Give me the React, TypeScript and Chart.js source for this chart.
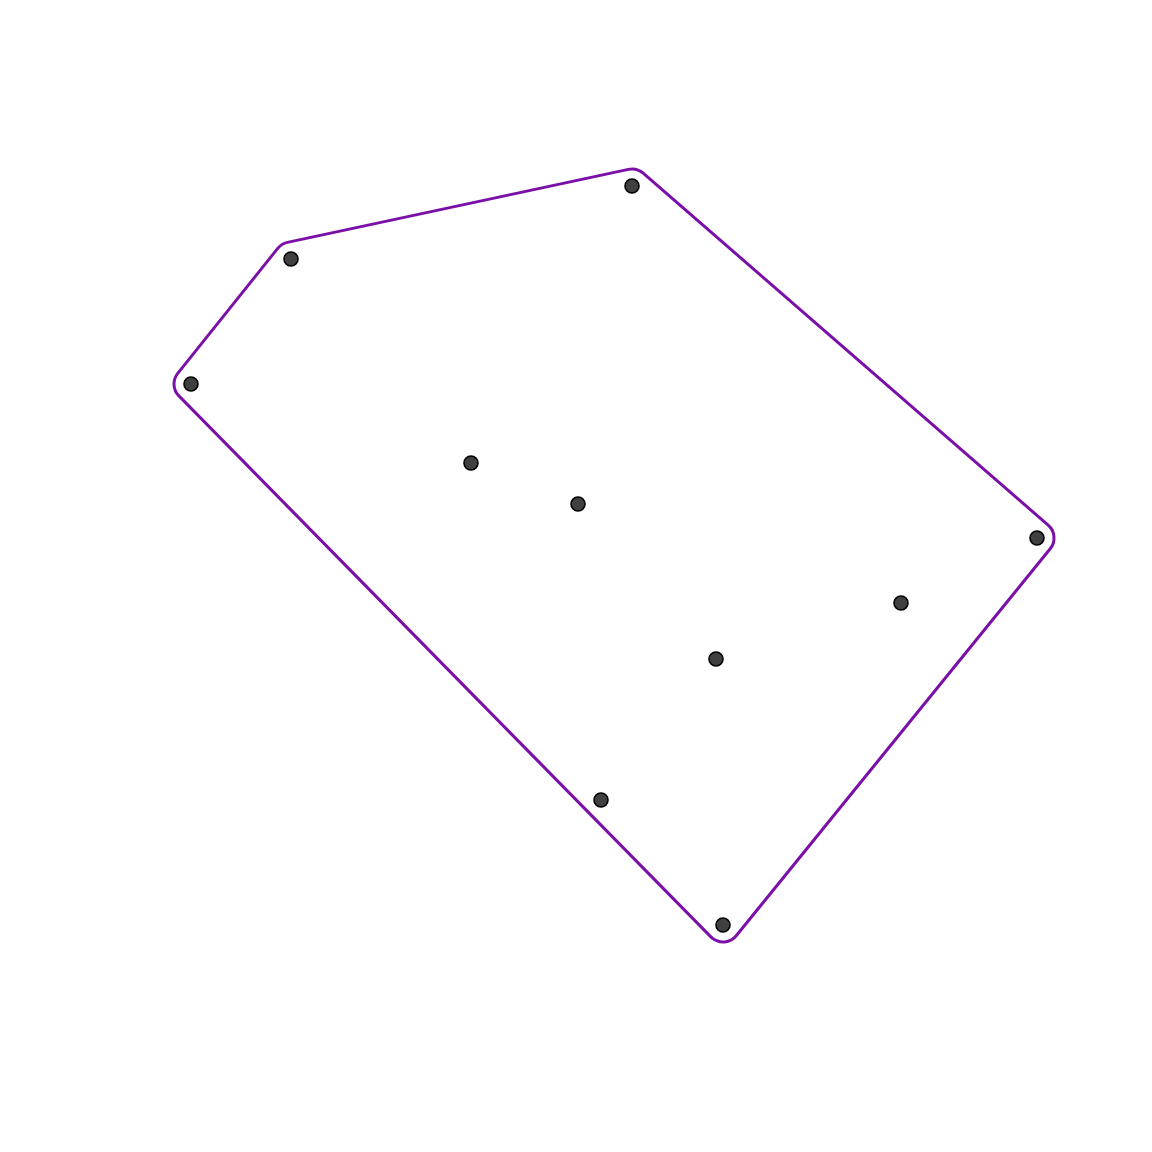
import React, { useEffect, useRef } from "react";
import { Chart, registerables } from "chart.js";

Chart.register(...registerables);

const xValues = [0.56, -2.85, -3.85, -1.05, 0.02, 4.61, 3.25, 1.4, 0.25, 1.47];
const yValues = [3.9, 3.17, 1.92, 1.13, 0.72, 0.38, -0.27, -0.83, -2.24, -3.49];

const HULL_COLOR = "#7A10A8";
const POINT_FILL = "#404040";
const HULL_EXPAND = 17;
const HULL_RADIUS = 17;

type P = { x: number; y: number };

function convexHull(pts: P[]): P[] {
  const p = [...pts].sort((a, b) => (a.x === b.x ? a.y - b.y : a.x - b.x));
  const cross = (o: P, a: P, b: P) => (a.x - o.x) * (b.y - o.y) - (a.y - o.y) * (b.x - o.x);
  const lower: P[] = [];
  for (const q of p) {
    while (lower.length >= 2 && cross(lower[lower.length - 2], lower[lower.length - 1], q) <= 0) lower.pop();
    lower.push(q);
  }
  const upper: P[] = [];
  for (let i = p.length - 1; i >= 0; i--) {
    const q = p[i];
    while (upper.length >= 2 && cross(upper[upper.length - 2], upper[upper.length - 1], q) <= 0) upper.pop();
    upper.push(q);
  }
  upper.pop();
  lower.pop();
  return lower.concat(upper);
}

const hullPlugin = {
  id: "hullMark",
  beforeDatasetsDraw(chart: any) {
    const xs = chart.scales.x;
    const ys = chart.scales.y;
    const pts: P[] = xValues.map((x, i) => ({ x: xs.getPixelForValue(x), y: ys.getPixelForValue(yValues[i]) }));
    const hull = convexHull(pts);
    const n = hull.length;
    const cx = hull.reduce((s, p) => s + p.x, 0) / n;
    const cy = hull.reduce((s, p) => s + p.y, 0) / n;
    const normals: P[] = [];
    for (let i = 0; i < n; i++) {
      const a = hull[i];
      const b = hull[(i + 1) % n];
      const dx = b.x - a.x;
      const dy = b.y - a.y;
      const len = Math.hypot(dx, dy);
      let nx = dy / len;
      let ny = -dx / len;
      const mx = (a.x + b.x) / 2 - cx;
      const my = (a.y + b.y) / 2 - cy;
      if (nx * mx + ny * my < 0) {
        nx = -nx;
        ny = -ny;
      }
      normals.push({ x: nx, y: ny });
    }
    const k = HULL_EXPAND - HULL_RADIUS;
    const r = HULL_RADIUS;
    const ctx = chart.ctx;
    ctx.save();
    ctx.beginPath();
    for (let i = 0; i < n; i++) {
      const nIn = normals[(i - 1 + n) % n];
      const nOut = normals[i];
      const v = hull[i];
      const dot = nIn.x * nOut.x + nIn.y * nOut.y;
      const f = k / (1 + dot);
      const m = { x: v.x + f * (nIn.x + nOut.x), y: v.y + f * (nIn.y + nOut.y) };
      const a1 = Math.atan2(nIn.y, nIn.x);
      const a2 = Math.atan2(nOut.y, nOut.x);
      let d = a2 - a1;
      while (d > Math.PI) d -= 2 * Math.PI;
      while (d <= -Math.PI) d += 2 * Math.PI;
      ctx.arc(m.x, m.y, r, a1, a2, d < 0);
    }
    ctx.closePath();
    ctx.strokeStyle = HULL_COLOR;
    ctx.lineWidth = 3;
    ctx.lineJoin = "round";
    ctx.stroke();
    ctx.restore();
  },
};

export default function App() {
  const ref = useRef<HTMLCanvasElement | null>(null);
  useEffect(() => {
    if (!ref.current) return;
    const chart = new Chart(ref.current, {
      type: "scatter",
      data: {
        datasets: [
          {
            data: xValues.map((x, i) => ({ x, y: yValues[i] })),
            backgroundColor: POINT_FILL,
            borderColor: "#000000",
            borderWidth: 1.6,
            pointRadius: 7,
            pointHoverRadius: 7,
          },
        ],
      },
      options: {
        animation: false,
        responsive: false,
        maintainAspectRatio: false,
        layout: { padding: 0, autoPadding: false },
        plugins: { legend: { display: false }, tooltip: { enabled: false } },
        scales: {
          x: { type: "linear", min: -5.76, max: 5.76, display: false },
          y: { type: "linear", min: -5.76, max: 5.76, display: false },
        },
        elements: { point: { pointStyle: "circle" } },
        clip: false as any,
      },
      plugins: [hullPlugin],
    });
    return () => chart.destroy();
  }, []);
  return (
    <div style={{ position: "absolute", left: 0, top: 0, width: 1152, height: 1152, background: "#ffffff" }}>
      <canvas ref={ref} width={1152} height={1152} style={{ display: "block" }} />
    </div>
  );
}
